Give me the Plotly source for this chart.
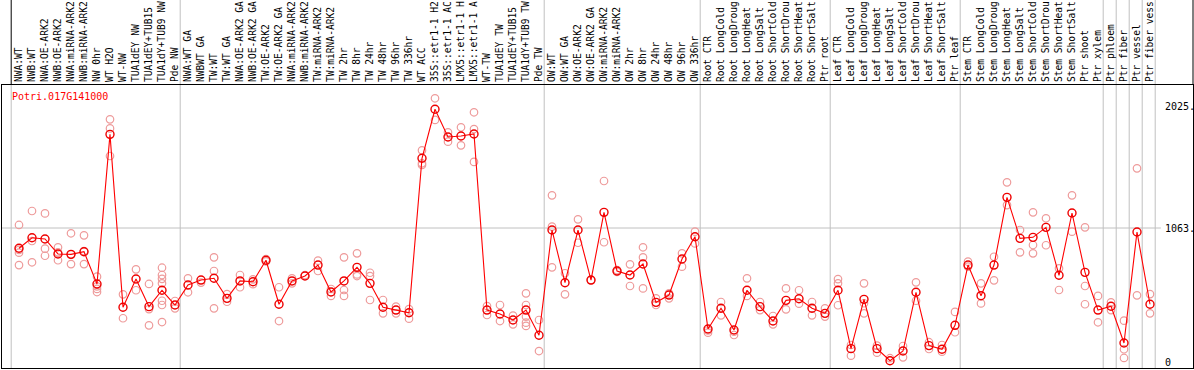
import plotly.graph_objects as go

gene = "Potri.017G141000"

categories = [
    "NWA:WT", "NWB:WT", "NWA:OE-ARK2", "NWB:OE-ARK2", "NWA:miRNA-ARK2", "NWB:miRNA-ARK2",
    "NW 0hr", "WT H2O", "WT-NW", "TUA1dEY NW", "TUA1dEY+TUB15", "TUA1dY+TUB9 NW", "Pde NW",
    "NWA:WT GA", "NWBWT GA", "TW:WT", "TW:WT GA", "NWA:OE-ARK2 GA", "NWB:OE-ARK2 GA",
    "TW:OE-ARK2", "TW:OE-ARK2 GA", "NWA:miRNA-ARK2", "NWB:miRNA-ARK2", "TW:miRNA-ARK2",
    "TW:miRNA-ARK2", "TW 2hr", "TW 8hr", "TW 24hr", "TW 48hr", "TW 96hr", "TW 336hr",
    "WT ACC", "35S::etr1-1 H2", "35S::etr1-1 AC", "LMX5::etr1-1 H", "LMX5::etr1-1 A",
    "WT-TW", "TUA1dEY TW", "TUA1dEY+TUB15", "TUA1dY+TUB9 TW", "Pde TW",
    "OW:WT", "OW:WT GA", "OW:OE-ARK2", "OW:OE-ARK2 GA", "OW:miRNA-ARK2", "OW:miRNA-ARK2",
    "OW 2hr", "OW 8hr", "OW 24hr", "OW 48hr", "OW 96hr", "OW 336hr",
    "Root CTR", "Root LongCold", "Root LongDroug", "Root LongHeat", "Root LongSalt",
    "Root ShortCold", "Root ShortDrou", "Root ShortHeat", "Root ShortSalt", "Ptr root",
    "Leaf CTR", "Leaf LongCold", "Leaf LongDroug", "Leaf LongHeat", "Leaf LongSalt",
    "Leaf ShortCold", "Leaf ShortDrou", "Leaf ShortHeat", "Leaf ShortSalt", "Ptr leaf",
    "Stem CTR", "Stem LongCold", "Stem LongDroug", "Stem LongHeat", "Stem LongSalt",
    "Stem ShortCold", "Stem ShortDrou", "Stem ShortHeat", "Stem ShortSalt", "Ptr shoot",
    "Ptr xylem", "Ptr phloem", "Ptr fiber", "Ptr vessel", "Ptr fiber vess",
]

group_sizes = [13, 28, 12, 10, 10, 11, 1, 1, 1, 1]

means = [
    902, 986, 976, 857, 854, 875, 619, 1806, 434, 658, 439, 569, 452,
    611, 650, 664, 505, 643, 637, 807, 458, 643, 682, 769, 555, 643, 751, 624,
    434, 412, 391, 1616, 2005, 1785, 1793, 1809, 412, 381, 333, 412, 212,
    1047, 629, 1047, 650, 1187, 722, 690, 777, 473, 531, 817, 994,
    262, 426, 254, 569, 439, 325, 489, 502, 426, 386,
    569, 106, 497, 106, 10, 87, 553, 130, 101, 291,
    769, 526, 769, 1306, 981, 989, 1068, 688, 1182, 711, 412,
    442, 151, 1031, 458,
]

replicates = [
    [1087, 867, 769, 890], [1198, 960, 791], [1179, 899, 843], [910, 807, 870],
    [1021, 777, 854], [1005, 777, 880], [677, 600, 580, 555], [1925, 1853, 1634],
    [537, 347], [735, 569], [619, 420, 291], [748, 690, 660, 624, 486, 452, 317],
    [484, 426],
    [664, 553], [630], [830, 722, 426], [539, 478], [690, 593], [656, 617],
    [817, 798], [593, 325], [664, 624], [690], [804, 722], [579, 524],
    [830, 571, 524], [862, 695, 682], [708, 682, 492], [492, 386], [439, 386],
    [420, 344], [1679, 1576, 1563], [2092, 1920], [1822, 1748], [1862, 1719],
    [1981, 1848, 1587], [444, 373], [452, 325], [368, 299],
    [545, 452, 360, 312, 286], [333, 87],
    [1322, 1074, 751], [704, 537], [1132, 946], [650], [1436, 950], [730, 715],
    [775, 603], [910, 830, 584], [505, 452], [545, 505], [862, 756], [1034, 941],
    [233, 250], [476, 370], [214, 240], [664, 524], [476, 412], [365, 299],
    [584, 418], [569, 463], [476, 370], [426, 360],
    [658, 624, 450], [135, 50], [624, 466, 386], [130, 74], [30], [127, 37],
    [632, 486], [157, 103], [135, 82], [397, 236],
    [796, 756], [624, 465], [835, 648], [1425, 1245], [1047, 870], [1187, 928, 862],
    [1140, 926], [743, 571], [1322, 1034], [1068, 603, 458], [524, 315],
    [473, 412], [328, 101, 32], [1536, 529], [539, 386],
]

ytick_values = [2025, 1063, 0]
ytick_labels = ["2025.", "1063.", "0"]

MONO = "DejaVu Sans Mono"
idx = list(range(len(categories)))

rep_x, rep_y = [], []
for i, reps in enumerate(replicates):
    for v in reps:
        rep_x.append(i)
        rep_y.append(v)

fig = go.Figure()
fig.add_trace(go.Scatter(
    x=rep_x, y=rep_y, mode="markers",
    marker=dict(symbol="circle-open", size=7.5, color="rgb(238,155,155)", line=dict(width=1.2)),
    showlegend=False, hoverinfo="skip",
))
fig.add_trace(go.Scatter(
    x=idx, y=means, mode="lines+markers",
    line=dict(color="#ff0000", width=1.1),
    marker=dict(symbol="circle-open", size=8, color="#ee0000", line=dict(width=1.4)),
    showlegend=False,
))

shapes = []
boundaries = [-1]
acc = -1
for g in group_sizes:
    acc += g
    boundaries.append(acc)
for k, b in enumerate(boundaries):
    xb = b + 0.4
    if k == 0:
        shapes.append(dict(type="line", xref="x", yref="paper", x0=xb, x1=xb, y0=0, y1=1,
                           line=dict(color="#c0c0c0", width=1), layer="below"))
        shapes.append(dict(type="line", xref="x", yref="paper", x0=xb, x1=xb, y0=1, y1=1.31,
                           line=dict(color="#000000", width=1)))
    else:
        shapes.append(dict(type="line", xref="x", yref="paper", x0=xb, x1=xb, y0=0, y1=1.31,
                           line=dict(color="#c0c0c0", width=1), layer="below"))
shapes.append(dict(type="line", xref="paper", yref="y", x0=0, x1=0.973, y0=ytick_values[1], y1=ytick_values[1],
                   line=dict(color="#c0c0c0", width=1), layer="below"))
shapes.append(dict(type="line", xref="paper", yref="paper", x0=1, x1=1, y0=1, y1=1.31,
                   line=dict(color="#000000", width=1)))

annotations = [dict(text=gene, xref="paper", yref="paper", x=0.0067, y=0.958,
                    xanchor="left", yanchor="middle", showarrow=False,
                    font=dict(family=MONO, size=10, color="#ff0000"))]
for v, t in zip(ytick_values, ytick_labels):
    annotations.append(dict(text=t, xref="paper", yref="y", x=0.975, y=v,
                            xanchor="left", yanchor="middle", showarrow=False,
                            font=dict(family=MONO, size=10, color="#000000")))

fig.update_layout(
    width=1194, height=370,
    margin=dict(l=2, r=1, t=85, b=2, autoexpand=False),
    paper_bgcolor="white", plot_bgcolor="white",
    shapes=shapes, annotations=annotations,
    xaxis=dict(
        range=[-1.3077, 90.308], side="top", tickmode="array",
        tickvals=idx, ticktext=categories, tickangle=-90,
        tickfont=dict(family=MONO, size=9.6, color="#000000"),
        ticks="", showgrid=False, zeroline=False, automargin=False,
        showline=True, mirror=True, linecolor="#000000", linewidth=1,
    ),
    yaxis=dict(
        range=[-47.6, 2197.4], showticklabels=False, ticks="", showgrid=False,
        zeroline=False, automargin=False,
        showline=True, mirror=True, linecolor="#000000", linewidth=1,
    ),
)

fig.write_html(
    "out.html",
    config={"displayModeBar": False},
    post_script="document.body.style.margin='0';document.body.style.padding='0';document.body.style.overflow='hidden';",
)
